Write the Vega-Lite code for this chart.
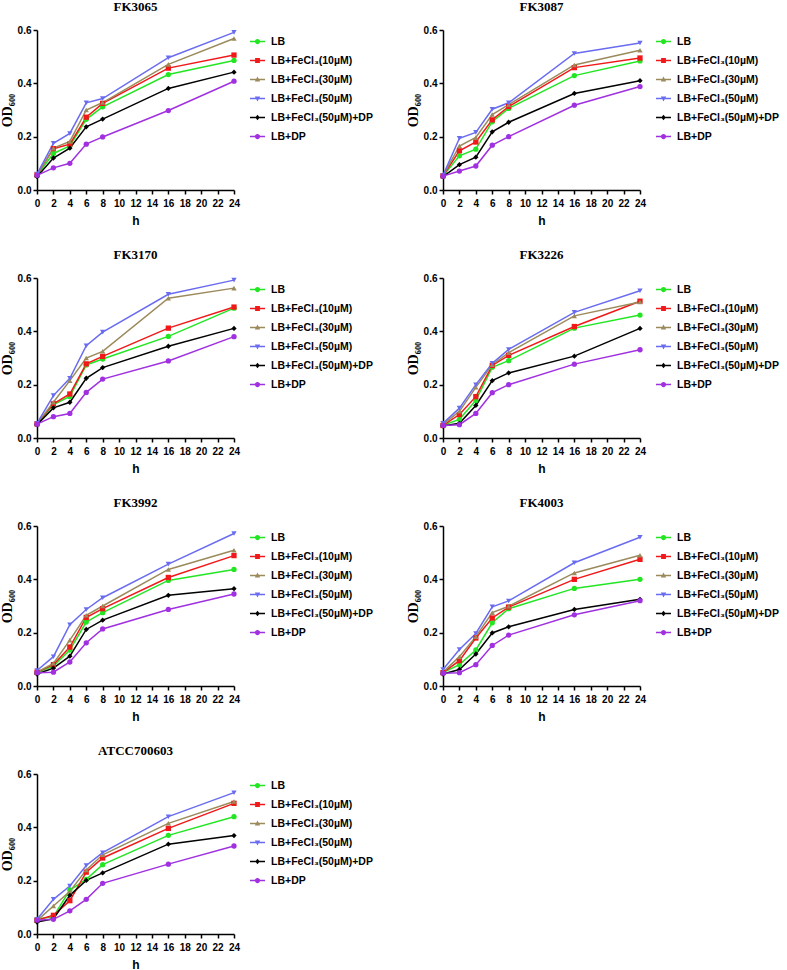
{
  "$schema": "https://vega.github.io/schema/vega-lite/v6.json",
  "background": "white",
  "padding": {"left": 0, "top": 1, "right": 0, "bottom": 0},
  "columns": 2,
  "spacing": {"row": 23, "column": 29},
  "resolve": {"legend": {"color": "independent", "shape": "independent"}},
  "datasets": {
    "od": [
      {"s":"FK3065","g":"LB","h":0,"v":0.055},{"s":"FK3065","g":"LB","h":2,"v":0.137},{"s":"FK3065","g":"LB","h":4,"v":0.165},{"s":"FK3065","g":"LB","h":6,"v":0.265},{"s":"FK3065","g":"LB","h":8,"v":0.312},{"s":"FK3065","g":"LB","h":16,"v":0.433},{"s":"FK3065","g":"LB","h":24,"v":0.486},
      {"s":"FK3065","g":"LB+FeCl₃(10µM)","h":0,"v":0.057},{"s":"FK3065","g":"LB+FeCl₃(10µM)","h":2,"v":0.155},{"s":"FK3065","g":"LB+FeCl₃(10µM)","h":4,"v":0.172},{"s":"FK3065","g":"LB+FeCl₃(10µM)","h":6,"v":0.273},{"s":"FK3065","g":"LB+FeCl₃(10µM)","h":8,"v":0.325},{"s":"FK3065","g":"LB+FeCl₃(10µM)","h":16,"v":0.457},{"s":"FK3065","g":"LB+FeCl₃(10µM)","h":24,"v":0.506},
      {"s":"FK3065","g":"LB+FeCl₃(30µM)","h":0,"v":0.055},{"s":"FK3065","g":"LB+FeCl₃(30µM)","h":2,"v":0.157},{"s":"FK3065","g":"LB+FeCl₃(30µM)","h":4,"v":0.182},{"s":"FK3065","g":"LB+FeCl₃(30µM)","h":6,"v":0.3},{"s":"FK3065","g":"LB+FeCl₃(30µM)","h":8,"v":0.328},{"s":"FK3065","g":"LB+FeCl₃(30µM)","h":16,"v":0.471},{"s":"FK3065","g":"LB+FeCl₃(30µM)","h":24,"v":0.568},
      {"s":"FK3065","g":"LB+FeCl₃(50µM)","h":0,"v":0.06},{"s":"FK3065","g":"LB+FeCl₃(50µM)","h":2,"v":0.175},{"s":"FK3065","g":"LB+FeCl₃(50µM)","h":4,"v":0.212},{"s":"FK3065","g":"LB+FeCl₃(50µM)","h":6,"v":0.327},{"s":"FK3065","g":"LB+FeCl₃(50µM)","h":8,"v":0.343},{"s":"FK3065","g":"LB+FeCl₃(50µM)","h":16,"v":0.496},{"s":"FK3065","g":"LB+FeCl₃(50µM)","h":24,"v":0.591},
      {"s":"FK3065","g":"LB+FeCl₃(50µM)+DP","h":0,"v":0.05},{"s":"FK3065","g":"LB+FeCl₃(50µM)+DP","h":2,"v":0.12},{"s":"FK3065","g":"LB+FeCl₃(50µM)+DP","h":4,"v":0.157},{"s":"FK3065","g":"LB+FeCl₃(50µM)+DP","h":6,"v":0.237},{"s":"FK3065","g":"LB+FeCl₃(50µM)+DP","h":8,"v":0.266},{"s":"FK3065","g":"LB+FeCl₃(50µM)+DP","h":16,"v":0.381},{"s":"FK3065","g":"LB+FeCl₃(50µM)+DP","h":24,"v":0.442},
      {"s":"FK3065","g":"LB+DP","h":0,"v":0.055},{"s":"FK3065","g":"LB+DP","h":2,"v":0.083},{"s":"FK3065","g":"LB+DP","h":4,"v":0.1},{"s":"FK3065","g":"LB+DP","h":6,"v":0.172},{"s":"FK3065","g":"LB+DP","h":8,"v":0.199},{"s":"FK3065","g":"LB+DP","h":16,"v":0.298},{"s":"FK3065","g":"LB+DP","h":24,"v":0.408},

      {"s":"FK3087","g":"LB","h":0,"v":0.052},{"s":"FK3087","g":"LB","h":2,"v":0.128},{"s":"FK3087","g":"LB","h":4,"v":0.153},{"s":"FK3087","g":"LB","h":6,"v":0.256},{"s":"FK3087","g":"LB","h":8,"v":0.306},{"s":"FK3087","g":"LB","h":16,"v":0.429},{"s":"FK3087","g":"LB","h":24,"v":0.484},
      {"s":"FK3087","g":"LB+FeCl₃(10µM)","h":0,"v":0.053},{"s":"FK3087","g":"LB+FeCl₃(10µM)","h":2,"v":0.147},{"s":"FK3087","g":"LB+FeCl₃(10µM)","h":4,"v":0.18},{"s":"FK3087","g":"LB+FeCl₃(10µM)","h":6,"v":0.263},{"s":"FK3087","g":"LB+FeCl₃(10µM)","h":8,"v":0.313},{"s":"FK3087","g":"LB+FeCl₃(10µM)","h":16,"v":0.459},{"s":"FK3087","g":"LB+FeCl₃(10µM)","h":24,"v":0.495},
      {"s":"FK3087","g":"LB+FeCl₃(30µM)","h":0,"v":0.054},{"s":"FK3087","g":"LB+FeCl₃(30µM)","h":2,"v":0.165},{"s":"FK3087","g":"LB+FeCl₃(30µM)","h":4,"v":0.197},{"s":"FK3087","g":"LB+FeCl₃(30µM)","h":6,"v":0.283},{"s":"FK3087","g":"LB+FeCl₃(30µM)","h":8,"v":0.32},{"s":"FK3087","g":"LB+FeCl₃(30µM)","h":16,"v":0.469},{"s":"FK3087","g":"LB+FeCl₃(30µM)","h":24,"v":0.524},
      {"s":"FK3087","g":"LB+FeCl₃(50µM)","h":0,"v":0.055},{"s":"FK3087","g":"LB+FeCl₃(50µM)","h":2,"v":0.194},{"s":"FK3087","g":"LB+FeCl₃(50µM)","h":4,"v":0.216},{"s":"FK3087","g":"LB+FeCl₃(50µM)","h":6,"v":0.303},{"s":"FK3087","g":"LB+FeCl₃(50µM)","h":8,"v":0.327},{"s":"FK3087","g":"LB+FeCl₃(50µM)","h":16,"v":0.512},{"s":"FK3087","g":"LB+FeCl₃(50µM)","h":24,"v":0.551},
      {"s":"FK3087","g":"LB+FeCl₃(50µM)+DP","h":0,"v":0.05},{"s":"FK3087","g":"LB+FeCl₃(50µM)+DP","h":2,"v":0.095},{"s":"FK3087","g":"LB+FeCl₃(50µM)+DP","h":4,"v":0.123},{"s":"FK3087","g":"LB+FeCl₃(50µM)+DP","h":6,"v":0.218},{"s":"FK3087","g":"LB+FeCl₃(50µM)+DP","h":8,"v":0.254},{"s":"FK3087","g":"LB+FeCl₃(50µM)+DP","h":16,"v":0.362},{"s":"FK3087","g":"LB+FeCl₃(50µM)+DP","h":24,"v":0.41},
      {"s":"FK3087","g":"LB+DP","h":0,"v":0.052},{"s":"FK3087","g":"LB+DP","h":2,"v":0.071},{"s":"FK3087","g":"LB+DP","h":4,"v":0.09},{"s":"FK3087","g":"LB+DP","h":6,"v":0.168},{"s":"FK3087","g":"LB+DP","h":8,"v":0.2},{"s":"FK3087","g":"LB+DP","h":16,"v":0.318},{"s":"FK3087","g":"LB+DP","h":24,"v":0.388},

      {"s":"FK3170","g":"LB","h":0,"v":0.052},{"s":"FK3170","g":"LB","h":2,"v":0.125},{"s":"FK3170","g":"LB","h":4,"v":0.156},{"s":"FK3170","g":"LB","h":6,"v":0.274},{"s":"FK3170","g":"LB","h":8,"v":0.296},{"s":"FK3170","g":"LB","h":16,"v":0.381},{"s":"FK3170","g":"LB","h":24,"v":0.487},
      {"s":"FK3170","g":"LB+FeCl₃(10µM)","h":0,"v":0.053},{"s":"FK3170","g":"LB+FeCl₃(10µM)","h":2,"v":0.128},{"s":"FK3170","g":"LB+FeCl₃(10µM)","h":4,"v":0.165},{"s":"FK3170","g":"LB+FeCl₃(10µM)","h":6,"v":0.278},{"s":"FK3170","g":"LB+FeCl₃(10µM)","h":8,"v":0.306},{"s":"FK3170","g":"LB+FeCl₃(10µM)","h":16,"v":0.412},{"s":"FK3170","g":"LB+FeCl₃(10µM)","h":24,"v":0.491},
      {"s":"FK3170","g":"LB+FeCl₃(30µM)","h":0,"v":0.054},{"s":"FK3170","g":"LB+FeCl₃(30µM)","h":2,"v":0.134},{"s":"FK3170","g":"LB+FeCl₃(30µM)","h":4,"v":0.215},{"s":"FK3170","g":"LB+FeCl₃(30µM)","h":6,"v":0.3},{"s":"FK3170","g":"LB+FeCl₃(30µM)","h":8,"v":0.325},{"s":"FK3170","g":"LB+FeCl₃(30µM)","h":16,"v":0.524},{"s":"FK3170","g":"LB+FeCl₃(30µM)","h":24,"v":0.562},
      {"s":"FK3170","g":"LB+FeCl₃(50µM)","h":0,"v":0.055},{"s":"FK3170","g":"LB+FeCl₃(50µM)","h":2,"v":0.159},{"s":"FK3170","g":"LB+FeCl₃(50µM)","h":4,"v":0.224},{"s":"FK3170","g":"LB+FeCl₃(50µM)","h":6,"v":0.346},{"s":"FK3170","g":"LB+FeCl₃(50µM)","h":8,"v":0.397},{"s":"FK3170","g":"LB+FeCl₃(50µM)","h":16,"v":0.539},{"s":"FK3170","g":"LB+FeCl₃(50µM)","h":24,"v":0.592},
      {"s":"FK3170","g":"LB+FeCl₃(50µM)+DP","h":0,"v":0.05},{"s":"FK3170","g":"LB+FeCl₃(50µM)+DP","h":2,"v":0.113},{"s":"FK3170","g":"LB+FeCl₃(50µM)+DP","h":4,"v":0.134},{"s":"FK3170","g":"LB+FeCl₃(50µM)+DP","h":6,"v":0.224},{"s":"FK3170","g":"LB+FeCl₃(50µM)+DP","h":8,"v":0.264},{"s":"FK3170","g":"LB+FeCl₃(50µM)+DP","h":16,"v":0.344},{"s":"FK3170","g":"LB+FeCl₃(50µM)+DP","h":24,"v":0.411},
      {"s":"FK3170","g":"LB+DP","h":0,"v":0.052},{"s":"FK3170","g":"LB+DP","h":2,"v":0.08},{"s":"FK3170","g":"LB+DP","h":4,"v":0.092},{"s":"FK3170","g":"LB+DP","h":6,"v":0.171},{"s":"FK3170","g":"LB+DP","h":8,"v":0.221},{"s":"FK3170","g":"LB+DP","h":16,"v":0.289},{"s":"FK3170","g":"LB+DP","h":24,"v":0.38},

      {"s":"FK3226","g":"LB","h":0,"v":0.048},{"s":"FK3226","g":"LB","h":2,"v":0.07},{"s":"FK3226","g":"LB","h":4,"v":0.141},{"s":"FK3226","g":"LB","h":6,"v":0.265},{"s":"FK3226","g":"LB","h":8,"v":0.29},{"s":"FK3226","g":"LB","h":16,"v":0.412},{"s":"FK3226","g":"LB","h":24,"v":0.461},
      {"s":"FK3226","g":"LB+FeCl₃(10µM)","h":0,"v":0.047},{"s":"FK3226","g":"LB+FeCl₃(10µM)","h":2,"v":0.088},{"s":"FK3226","g":"LB+FeCl₃(10µM)","h":4,"v":0.155},{"s":"FK3226","g":"LB+FeCl₃(10µM)","h":6,"v":0.272},{"s":"FK3226","g":"LB+FeCl₃(10µM)","h":8,"v":0.31},{"s":"FK3226","g":"LB+FeCl₃(10µM)","h":16,"v":0.418},{"s":"FK3226","g":"LB+FeCl₃(10µM)","h":24,"v":0.513},
      {"s":"FK3226","g":"LB+FeCl₃(30µM)","h":0,"v":0.05},{"s":"FK3226","g":"LB+FeCl₃(30µM)","h":2,"v":0.1},{"s":"FK3226","g":"LB+FeCl₃(30µM)","h":4,"v":0.19},{"s":"FK3226","g":"LB+FeCl₃(30µM)","h":6,"v":0.275},{"s":"FK3226","g":"LB+FeCl₃(30µM)","h":8,"v":0.32},{"s":"FK3226","g":"LB+FeCl₃(30µM)","h":16,"v":0.458},{"s":"FK3226","g":"LB+FeCl₃(30µM)","h":24,"v":0.51},
      {"s":"FK3226","g":"LB+FeCl₃(50µM)","h":0,"v":0.055},{"s":"FK3226","g":"LB+FeCl₃(50µM)","h":2,"v":0.112},{"s":"FK3226","g":"LB+FeCl₃(50µM)","h":4,"v":0.2},{"s":"FK3226","g":"LB+FeCl₃(50µM)","h":6,"v":0.28},{"s":"FK3226","g":"LB+FeCl₃(50µM)","h":8,"v":0.332},{"s":"FK3226","g":"LB+FeCl₃(50µM)","h":16,"v":0.471},{"s":"FK3226","g":"LB+FeCl₃(50µM)","h":24,"v":0.552},
      {"s":"FK3226","g":"LB+FeCl₃(50µM)+DP","h":0,"v":0.045},{"s":"FK3226","g":"LB+FeCl₃(50µM)+DP","h":2,"v":0.055},{"s":"FK3226","g":"LB+FeCl₃(50µM)+DP","h":4,"v":0.122},{"s":"FK3226","g":"LB+FeCl₃(50µM)+DP","h":6,"v":0.215},{"s":"FK3226","g":"LB+FeCl₃(50µM)+DP","h":8,"v":0.244},{"s":"FK3226","g":"LB+FeCl₃(50µM)+DP","h":16,"v":0.307},{"s":"FK3226","g":"LB+FeCl₃(50µM)+DP","h":24,"v":0.411},
      {"s":"FK3226","g":"LB+DP","h":0,"v":0.047},{"s":"FK3226","g":"LB+DP","h":2,"v":0.05},{"s":"FK3226","g":"LB+DP","h":4,"v":0.092},{"s":"FK3226","g":"LB+DP","h":6,"v":0.17},{"s":"FK3226","g":"LB+DP","h":8,"v":0.2},{"s":"FK3226","g":"LB+DP","h":16,"v":0.277},{"s":"FK3226","g":"LB+DP","h":24,"v":0.331},

      {"s":"FK3992","g":"LB","h":0,"v":0.05},{"s":"FK3992","g":"LB","h":2,"v":0.075},{"s":"FK3992","g":"LB","h":4,"v":0.135},{"s":"FK3992","g":"LB","h":6,"v":0.24},{"s":"FK3992","g":"LB","h":8,"v":0.275},{"s":"FK3992","g":"LB","h":16,"v":0.396},{"s":"FK3992","g":"LB","h":24,"v":0.437},
      {"s":"FK3992","g":"LB+FeCl₃(10µM)","h":0,"v":0.052},{"s":"FK3992","g":"LB+FeCl₃(10µM)","h":2,"v":0.08},{"s":"FK3992","g":"LB+FeCl₃(10µM)","h":4,"v":0.146},{"s":"FK3992","g":"LB+FeCl₃(10µM)","h":6,"v":0.257},{"s":"FK3992","g":"LB+FeCl₃(10µM)","h":8,"v":0.29},{"s":"FK3992","g":"LB+FeCl₃(10µM)","h":16,"v":0.407},{"s":"FK3992","g":"LB+FeCl₃(10µM)","h":24,"v":0.489},
      {"s":"FK3992","g":"LB+FeCl₃(30µM)","h":0,"v":0.052},{"s":"FK3992","g":"LB+FeCl₃(30µM)","h":2,"v":0.085},{"s":"FK3992","g":"LB+FeCl₃(30µM)","h":4,"v":0.172},{"s":"FK3992","g":"LB+FeCl₃(30µM)","h":6,"v":0.265},{"s":"FK3992","g":"LB+FeCl₃(30µM)","h":8,"v":0.3},{"s":"FK3992","g":"LB+FeCl₃(30µM)","h":16,"v":0.437},{"s":"FK3992","g":"LB+FeCl₃(30µM)","h":24,"v":0.509},
      {"s":"FK3992","g":"LB+FeCl₃(50µM)","h":0,"v":0.058},{"s":"FK3992","g":"LB+FeCl₃(50µM)","h":2,"v":0.11},{"s":"FK3992","g":"LB+FeCl₃(50µM)","h":4,"v":0.23},{"s":"FK3992","g":"LB+FeCl₃(50µM)","h":6,"v":0.287},{"s":"FK3992","g":"LB+FeCl₃(50µM)","h":8,"v":0.331},{"s":"FK3992","g":"LB+FeCl₃(50µM)","h":16,"v":0.457},{"s":"FK3992","g":"LB+FeCl₃(50µM)","h":24,"v":0.572},
      {"s":"FK3992","g":"LB+FeCl₃(50µM)+DP","h":0,"v":0.045},{"s":"FK3992","g":"LB+FeCl₃(50µM)+DP","h":2,"v":0.067},{"s":"FK3992","g":"LB+FeCl₃(50µM)+DP","h":4,"v":0.112},{"s":"FK3992","g":"LB+FeCl₃(50µM)+DP","h":6,"v":0.212},{"s":"FK3992","g":"LB+FeCl₃(50µM)+DP","h":8,"v":0.247},{"s":"FK3992","g":"LB+FeCl₃(50µM)+DP","h":16,"v":0.34},{"s":"FK3992","g":"LB+FeCl₃(50µM)+DP","h":24,"v":0.365},
      {"s":"FK3992","g":"LB+DP","h":0,"v":0.05},{"s":"FK3992","g":"LB+DP","h":2,"v":0.052},{"s":"FK3992","g":"LB+DP","h":4,"v":0.09},{"s":"FK3992","g":"LB+DP","h":6,"v":0.162},{"s":"FK3992","g":"LB+DP","h":8,"v":0.214},{"s":"FK3992","g":"LB+DP","h":16,"v":0.287},{"s":"FK3992","g":"LB+DP","h":24,"v":0.345},

      {"s":"FK4003","g":"LB","h":0,"v":0.05},{"s":"FK4003","g":"LB","h":2,"v":0.08},{"s":"FK4003","g":"LB","h":4,"v":0.135},{"s":"FK4003","g":"LB","h":6,"v":0.237},{"s":"FK4003","g":"LB","h":8,"v":0.29},{"s":"FK4003","g":"LB","h":16,"v":0.366},{"s":"FK4003","g":"LB","h":24,"v":0.4},
      {"s":"FK4003","g":"LB+FeCl₃(10µM)","h":0,"v":0.05},{"s":"FK4003","g":"LB+FeCl₃(10µM)","h":2,"v":0.095},{"s":"FK4003","g":"LB+FeCl₃(10µM)","h":4,"v":0.18},{"s":"FK4003","g":"LB+FeCl₃(10µM)","h":6,"v":0.255},{"s":"FK4003","g":"LB+FeCl₃(10µM)","h":8,"v":0.296},{"s":"FK4003","g":"LB+FeCl₃(10µM)","h":16,"v":0.4},{"s":"FK4003","g":"LB+FeCl₃(10µM)","h":24,"v":0.475},
      {"s":"FK4003","g":"LB+FeCl₃(30µM)","h":0,"v":0.052},{"s":"FK4003","g":"LB+FeCl₃(30µM)","h":2,"v":0.11},{"s":"FK4003","g":"LB+FeCl₃(30µM)","h":4,"v":0.185},{"s":"FK4003","g":"LB+FeCl₃(30µM)","h":6,"v":0.275},{"s":"FK4003","g":"LB+FeCl₃(30µM)","h":8,"v":0.299},{"s":"FK4003","g":"LB+FeCl₃(30µM)","h":16,"v":0.424},{"s":"FK4003","g":"LB+FeCl₃(30µM)","h":24,"v":0.49},
      {"s":"FK4003","g":"LB+FeCl₃(50µM)","h":0,"v":0.062},{"s":"FK4003","g":"LB+FeCl₃(50µM)","h":2,"v":0.137},{"s":"FK4003","g":"LB+FeCl₃(50µM)","h":4,"v":0.197},{"s":"FK4003","g":"LB+FeCl₃(50µM)","h":6,"v":0.297},{"s":"FK4003","g":"LB+FeCl₃(50µM)","h":8,"v":0.319},{"s":"FK4003","g":"LB+FeCl₃(50µM)","h":16,"v":0.462},{"s":"FK4003","g":"LB+FeCl₃(50µM)","h":24,"v":0.558},
      {"s":"FK4003","g":"LB+FeCl₃(50µM)+DP","h":0,"v":0.045},{"s":"FK4003","g":"LB+FeCl₃(50µM)+DP","h":2,"v":0.062},{"s":"FK4003","g":"LB+FeCl₃(50µM)+DP","h":4,"v":0.12},{"s":"FK4003","g":"LB+FeCl₃(50µM)+DP","h":6,"v":0.199},{"s":"FK4003","g":"LB+FeCl₃(50µM)+DP","h":8,"v":0.222},{"s":"FK4003","g":"LB+FeCl₃(50µM)+DP","h":16,"v":0.287},{"s":"FK4003","g":"LB+FeCl₃(50µM)+DP","h":24,"v":0.325},
      {"s":"FK4003","g":"LB+DP","h":0,"v":0.048},{"s":"FK4003","g":"LB+DP","h":2,"v":0.05},{"s":"FK4003","g":"LB+DP","h":4,"v":0.08},{"s":"FK4003","g":"LB+DP","h":6,"v":0.152},{"s":"FK4003","g":"LB+DP","h":8,"v":0.191},{"s":"FK4003","g":"LB+DP","h":16,"v":0.267},{"s":"FK4003","g":"LB+DP","h":24,"v":0.32},

      {"s":"ATCC700603","g":"LB","h":0,"v":0.055},{"s":"ATCC700603","g":"LB","h":2,"v":0.065},{"s":"ATCC700603","g":"LB","h":4,"v":0.165},{"s":"ATCC700603","g":"LB","h":6,"v":0.205},{"s":"ATCC700603","g":"LB","h":8,"v":0.26},{"s":"ATCC700603","g":"LB","h":16,"v":0.37},{"s":"ATCC700603","g":"LB","h":24,"v":0.44},
      {"s":"ATCC700603","g":"LB+FeCl₃(10µM)","h":0,"v":0.052},{"s":"ATCC700603","g":"LB+FeCl₃(10µM)","h":2,"v":0.07},{"s":"ATCC700603","g":"LB+FeCl₃(10µM)","h":4,"v":0.125},{"s":"ATCC700603","g":"LB+FeCl₃(10µM)","h":6,"v":0.232},{"s":"ATCC700603","g":"LB+FeCl₃(10µM)","h":8,"v":0.285},{"s":"ATCC700603","g":"LB+FeCl₃(10µM)","h":16,"v":0.396},{"s":"ATCC700603","g":"LB+FeCl₃(10µM)","h":24,"v":0.49},
      {"s":"ATCC700603","g":"LB+FeCl₃(30µM)","h":0,"v":0.05},{"s":"ATCC700603","g":"LB+FeCl₃(30µM)","h":2,"v":0.105},{"s":"ATCC700603","g":"LB+FeCl₃(30µM)","h":4,"v":0.16},{"s":"ATCC700603","g":"LB+FeCl₃(30µM)","h":6,"v":0.24},{"s":"ATCC700603","g":"LB+FeCl₃(30µM)","h":8,"v":0.297},{"s":"ATCC700603","g":"LB+FeCl₃(30µM)","h":16,"v":0.415},{"s":"ATCC700603","g":"LB+FeCl₃(30µM)","h":24,"v":0.497},
      {"s":"ATCC700603","g":"LB+FeCl₃(50µM)","h":0,"v":0.055},{"s":"ATCC700603","g":"LB+FeCl₃(50µM)","h":2,"v":0.13},{"s":"ATCC700603","g":"LB+FeCl₃(50µM)","h":4,"v":0.18},{"s":"ATCC700603","g":"LB+FeCl₃(50µM)","h":6,"v":0.257},{"s":"ATCC700603","g":"LB+FeCl₃(50µM)","h":8,"v":0.305},{"s":"ATCC700603","g":"LB+FeCl₃(50µM)","h":16,"v":0.44},{"s":"ATCC700603","g":"LB+FeCl₃(50µM)","h":24,"v":0.53},
      {"s":"ATCC700603","g":"LB+FeCl₃(50µM)+DP","h":0,"v":0.045},{"s":"ATCC700603","g":"LB+FeCl₃(50µM)+DP","h":2,"v":0.057},{"s":"ATCC700603","g":"LB+FeCl₃(50µM)+DP","h":4,"v":0.145},{"s":"ATCC700603","g":"LB+FeCl₃(50µM)+DP","h":6,"v":0.201},{"s":"ATCC700603","g":"LB+FeCl₃(50µM)+DP","h":8,"v":0.229},{"s":"ATCC700603","g":"LB+FeCl₃(50µM)+DP","h":16,"v":0.337},{"s":"ATCC700603","g":"LB+FeCl₃(50µM)+DP","h":24,"v":0.369},
      {"s":"ATCC700603","g":"LB+DP","h":0,"v":0.052},{"s":"ATCC700603","g":"LB+DP","h":2,"v":0.055},{"s":"ATCC700603","g":"LB+DP","h":4,"v":0.087},{"s":"ATCC700603","g":"LB+DP","h":6,"v":0.13},{"s":"ATCC700603","g":"LB+DP","h":8,"v":0.19},{"s":"ATCC700603","g":"LB+DP","h":16,"v":0.262},{"s":"ATCC700603","g":"LB+DP","h":24,"v":0.33}
    ]
  },
  "data": {"name": "od"},
  "concat": [
    {"title": "FK3065", "width": 197, "height": 160, "transform": [{"filter": "datum.s === 'FK3065'"}],
     "resolve": {"scale": {"color": "independent", "shape": "independent"}},
     "encoding": {
       "x": {"field": "h", "type": "quantitative", "title": "h", "scale": {"domain": [0, 24], "nice": false}, "axis": {"values": [0,2,4,6,8,10,12,14,16,18,20,22,24]}},
       "y": {"field": "v", "type": "quantitative", "title": "OD₆₀₀", "scale": {"domain": [0, 0.6], "nice": false}, "axis": {"values": [0,0.2,0.4,0.6], "format": ".1f"}}
     },
     "layer": [
      {"mark": {"type": "line", "strokeWidth": 1.5},
       "encoding": {"stroke": {"field": "g", "type": "nominal", "legend": null, "scale": {"domain": ["LB","LB+FeCl₃(10µM)","LB+FeCl₃(30µM)","LB+FeCl₃(50µM)","LB+FeCl₃(50µM)+DP","LB+DP"], "range": ["#22e622","#f01818","#9a8a5c","#6a6cf0","#000000","#a030e0"]}}}},
      {"mark": {"type": "point", "filled": true, "size": 28, "opacity": 1},
       "encoding": {
        "color": {"field": "g", "type": "nominal", "legend": null, "scale": {"domain": ["LB","LB+FeCl₃(10µM)","LB+FeCl₃(30µM)","LB+FeCl₃(50µM)","LB+FeCl₃(50µM)+DP","LB+DP"], "range": ["#22e622","#f01818","#9a8a5c","#6a6cf0","#000000","#a030e0"]}},
        "shape": {"field": "g", "type": "nominal", "legend": null, "scale": {"domain": ["LB","LB+FeCl₃(10µM)","LB+FeCl₃(30µM)","LB+FeCl₃(50µM)","LB+FeCl₃(50µM)+DP","LB+DP"], "range": ["circle","square","triangle-up","triangle-down","diamond","circle"]}}
       }},
      {"transform": [{"filter": "datum.h < 0"}],
       "mark": {"type": "point", "filled": true, "opacity": 1},
       "encoding": {
        "color": {"field": "g", "type": "nominal", "legend": {"title": null, "symbolOpacity": 1}, "scale": {"domain": ["LB","LB+FeCl₃(10µM)","LB+FeCl₃(30µM)","LB+FeCl₃(50µM)","LB+FeCl₃(50µM)+DP","LB+DP"], "range": ["#22e622","#f01818","#9a8a5c","#6a6cf0","#000000","#a030e0"]}},
        "shape": {"field": "g", "type": "nominal", "legend": {"title": null}, "scale": {"domain": ["LB","LB+FeCl₃(10µM)","LB+FeCl₃(30µM)","LB+FeCl₃(50µM)","LB+FeCl₃(50µM)+DP","LB+DP"], "range": ["M-1,-0.1H1V0.1H-1Z M0.35,0A0.35,0.35 0 1,1 -0.35,0A0.35,0.35 0 1,1 0.35,0Z","M-1,-0.1H1V0.1H-1Z M-0.32,-0.32H0.32V0.32H-0.32Z","M-1,-0.1H1V0.1H-1Z M0,-0.4L0.36,0.26H-0.36Z","M-1,-0.1H1V0.1H-1Z M-0.36,-0.26H0.36L0,0.4Z","M-1,-0.1H1V0.1H-1Z M0,-0.38L0.3,0L0,0.38L-0.3,0Z","M-1,-0.1H1V0.1H-1Z M0.35,0A0.35,0.35 0 1,1 -0.35,0A0.35,0.35 0 1,1 0.35,0Z"]}}
       }}
     ]},
    {"title": "FK3087", "width": 197, "height": 160, "transform": [{"filter": "datum.s === 'FK3087'"}],
     "resolve": {"scale": {"color": "independent", "shape": "independent"}},
     "encoding": {
       "x": {"field": "h", "type": "quantitative", "title": "h", "scale": {"domain": [0, 24], "nice": false}, "axis": {"values": [0,2,4,6,8,10,12,14,16,18,20,22,24]}},
       "y": {"field": "v", "type": "quantitative", "title": "OD₆₀₀", "scale": {"domain": [0, 0.6], "nice": false}, "axis": {"values": [0,0.2,0.4,0.6], "format": ".1f"}}
     },
     "layer": [
      {"mark": {"type": "line", "strokeWidth": 1.5},
       "encoding": {"stroke": {"field": "g", "type": "nominal", "legend": null, "scale": {"domain": ["LB","LB+FeCl₃(10µM)","LB+FeCl₃(30µM)","LB+FeCl₃(50µM)","LB+FeCl₃(50µM)+DP","LB+DP"], "range": ["#22e622","#f01818","#9a8a5c","#6a6cf0","#000000","#a030e0"]}}}},
      {"mark": {"type": "point", "filled": true, "size": 28, "opacity": 1},
       "encoding": {
        "color": {"field": "g", "type": "nominal", "legend": null, "scale": {"domain": ["LB","LB+FeCl₃(10µM)","LB+FeCl₃(30µM)","LB+FeCl₃(50µM)","LB+FeCl₃(50µM)+DP","LB+DP"], "range": ["#22e622","#f01818","#9a8a5c","#6a6cf0","#000000","#a030e0"]}},
        "shape": {"field": "g", "type": "nominal", "legend": null, "scale": {"domain": ["LB","LB+FeCl₃(10µM)","LB+FeCl₃(30µM)","LB+FeCl₃(50µM)","LB+FeCl₃(50µM)+DP","LB+DP"], "range": ["circle","square","triangle-up","triangle-down","diamond","circle"]}}
       }},
      {"transform": [{"filter": "datum.h < 0"}],
       "mark": {"type": "point", "filled": true, "opacity": 1},
       "encoding": {
        "color": {"field": "g", "type": "nominal", "legend": {"title": null, "symbolOpacity": 1}, "scale": {"domain": ["LB","LB+FeCl₃(10µM)","LB+FeCl₃(30µM)","LB+FeCl₃(50µM)","LB+FeCl₃(50µM)+DP","LB+DP"], "range": ["#22e622","#f01818","#9a8a5c","#6a6cf0","#000000","#a030e0"]}},
        "shape": {"field": "g", "type": "nominal", "legend": {"title": null}, "scale": {"domain": ["LB","LB+FeCl₃(10µM)","LB+FeCl₃(30µM)","LB+FeCl₃(50µM)","LB+FeCl₃(50µM)+DP","LB+DP"], "range": ["M-1,-0.1H1V0.1H-1Z M0.35,0A0.35,0.35 0 1,1 -0.35,0A0.35,0.35 0 1,1 0.35,0Z","M-1,-0.1H1V0.1H-1Z M-0.32,-0.32H0.32V0.32H-0.32Z","M-1,-0.1H1V0.1H-1Z M0,-0.4L0.36,0.26H-0.36Z","M-1,-0.1H1V0.1H-1Z M-0.36,-0.26H0.36L0,0.4Z","M-1,-0.1H1V0.1H-1Z M0,-0.38L0.3,0L0,0.38L-0.3,0Z","M-1,-0.1H1V0.1H-1Z M0.35,0A0.35,0.35 0 1,1 -0.35,0A0.35,0.35 0 1,1 0.35,0Z"]}}
       }}
     ]},
    {"title": "FK3170", "width": 197, "height": 160, "transform": [{"filter": "datum.s === 'FK3170'"}],
     "resolve": {"scale": {"color": "independent", "shape": "independent"}},
     "encoding": {
       "x": {"field": "h", "type": "quantitative", "title": "h", "scale": {"domain": [0, 24], "nice": false}, "axis": {"values": [0,2,4,6,8,10,12,14,16,18,20,22,24]}},
       "y": {"field": "v", "type": "quantitative", "title": "OD₆₀₀", "scale": {"domain": [0, 0.6], "nice": false}, "axis": {"values": [0,0.2,0.4,0.6], "format": ".1f"}}
     },
     "layer": [
      {"mark": {"type": "line", "strokeWidth": 1.5},
       "encoding": {"stroke": {"field": "g", "type": "nominal", "legend": null, "scale": {"domain": ["LB","LB+FeCl₃(10µM)","LB+FeCl₃(30µM)","LB+FeCl₃(50µM)","LB+FeCl₃(50µM)+DP","LB+DP"], "range": ["#22e622","#f01818","#9a8a5c","#6a6cf0","#000000","#a030e0"]}}}},
      {"mark": {"type": "point", "filled": true, "size": 28, "opacity": 1},
       "encoding": {
        "color": {"field": "g", "type": "nominal", "legend": null, "scale": {"domain": ["LB","LB+FeCl₃(10µM)","LB+FeCl₃(30µM)","LB+FeCl₃(50µM)","LB+FeCl₃(50µM)+DP","LB+DP"], "range": ["#22e622","#f01818","#9a8a5c","#6a6cf0","#000000","#a030e0"]}},
        "shape": {"field": "g", "type": "nominal", "legend": null, "scale": {"domain": ["LB","LB+FeCl₃(10µM)","LB+FeCl₃(30µM)","LB+FeCl₃(50µM)","LB+FeCl₃(50µM)+DP","LB+DP"], "range": ["circle","square","triangle-up","triangle-down","diamond","circle"]}}
       }},
      {"transform": [{"filter": "datum.h < 0"}],
       "mark": {"type": "point", "filled": true, "opacity": 1},
       "encoding": {
        "color": {"field": "g", "type": "nominal", "legend": {"title": null, "symbolOpacity": 1}, "scale": {"domain": ["LB","LB+FeCl₃(10µM)","LB+FeCl₃(30µM)","LB+FeCl₃(50µM)","LB+FeCl₃(50µM)+DP","LB+DP"], "range": ["#22e622","#f01818","#9a8a5c","#6a6cf0","#000000","#a030e0"]}},
        "shape": {"field": "g", "type": "nominal", "legend": {"title": null}, "scale": {"domain": ["LB","LB+FeCl₃(10µM)","LB+FeCl₃(30µM)","LB+FeCl₃(50µM)","LB+FeCl₃(50µM)+DP","LB+DP"], "range": ["M-1,-0.1H1V0.1H-1Z M0.35,0A0.35,0.35 0 1,1 -0.35,0A0.35,0.35 0 1,1 0.35,0Z","M-1,-0.1H1V0.1H-1Z M-0.32,-0.32H0.32V0.32H-0.32Z","M-1,-0.1H1V0.1H-1Z M0,-0.4L0.36,0.26H-0.36Z","M-1,-0.1H1V0.1H-1Z M-0.36,-0.26H0.36L0,0.4Z","M-1,-0.1H1V0.1H-1Z M0,-0.38L0.3,0L0,0.38L-0.3,0Z","M-1,-0.1H1V0.1H-1Z M0.35,0A0.35,0.35 0 1,1 -0.35,0A0.35,0.35 0 1,1 0.35,0Z"]}}
       }}
     ]},
    {"title": "FK3226", "width": 197, "height": 160, "transform": [{"filter": "datum.s === 'FK3226'"}],
     "resolve": {"scale": {"color": "independent", "shape": "independent"}},
     "encoding": {
       "x": {"field": "h", "type": "quantitative", "title": "h", "scale": {"domain": [0, 24], "nice": false}, "axis": {"values": [0,2,4,6,8,10,12,14,16,18,20,22,24]}},
       "y": {"field": "v", "type": "quantitative", "title": "OD₆₀₀", "scale": {"domain": [0, 0.6], "nice": false}, "axis": {"values": [0,0.2,0.4,0.6], "format": ".1f"}}
     },
     "layer": [
      {"mark": {"type": "line", "strokeWidth": 1.5},
       "encoding": {"stroke": {"field": "g", "type": "nominal", "legend": null, "scale": {"domain": ["LB","LB+FeCl₃(10µM)","LB+FeCl₃(30µM)","LB+FeCl₃(50µM)","LB+FeCl₃(50µM)+DP","LB+DP"], "range": ["#22e622","#f01818","#9a8a5c","#6a6cf0","#000000","#a030e0"]}}}},
      {"mark": {"type": "point", "filled": true, "size": 28, "opacity": 1},
       "encoding": {
        "color": {"field": "g", "type": "nominal", "legend": null, "scale": {"domain": ["LB","LB+FeCl₃(10µM)","LB+FeCl₃(30µM)","LB+FeCl₃(50µM)","LB+FeCl₃(50µM)+DP","LB+DP"], "range": ["#22e622","#f01818","#9a8a5c","#6a6cf0","#000000","#a030e0"]}},
        "shape": {"field": "g", "type": "nominal", "legend": null, "scale": {"domain": ["LB","LB+FeCl₃(10µM)","LB+FeCl₃(30µM)","LB+FeCl₃(50µM)","LB+FeCl₃(50µM)+DP","LB+DP"], "range": ["circle","square","triangle-up","triangle-down","diamond","circle"]}}
       }},
      {"transform": [{"filter": "datum.h < 0"}],
       "mark": {"type": "point", "filled": true, "opacity": 1},
       "encoding": {
        "color": {"field": "g", "type": "nominal", "legend": {"title": null, "symbolOpacity": 1}, "scale": {"domain": ["LB","LB+FeCl₃(10µM)","LB+FeCl₃(30µM)","LB+FeCl₃(50µM)","LB+FeCl₃(50µM)+DP","LB+DP"], "range": ["#22e622","#f01818","#9a8a5c","#6a6cf0","#000000","#a030e0"]}},
        "shape": {"field": "g", "type": "nominal", "legend": {"title": null}, "scale": {"domain": ["LB","LB+FeCl₃(10µM)","LB+FeCl₃(30µM)","LB+FeCl₃(50µM)","LB+FeCl₃(50µM)+DP","LB+DP"], "range": ["M-1,-0.1H1V0.1H-1Z M0.35,0A0.35,0.35 0 1,1 -0.35,0A0.35,0.35 0 1,1 0.35,0Z","M-1,-0.1H1V0.1H-1Z M-0.32,-0.32H0.32V0.32H-0.32Z","M-1,-0.1H1V0.1H-1Z M0,-0.4L0.36,0.26H-0.36Z","M-1,-0.1H1V0.1H-1Z M-0.36,-0.26H0.36L0,0.4Z","M-1,-0.1H1V0.1H-1Z M0,-0.38L0.3,0L0,0.38L-0.3,0Z","M-1,-0.1H1V0.1H-1Z M0.35,0A0.35,0.35 0 1,1 -0.35,0A0.35,0.35 0 1,1 0.35,0Z"]}}
       }}
     ]},
    {"title": "FK3992", "width": 197, "height": 160, "transform": [{"filter": "datum.s === 'FK3992'"}],
     "resolve": {"scale": {"color": "independent", "shape": "independent"}},
     "encoding": {
       "x": {"field": "h", "type": "quantitative", "title": "h", "scale": {"domain": [0, 24], "nice": false}, "axis": {"values": [0,2,4,6,8,10,12,14,16,18,20,22,24]}},
       "y": {"field": "v", "type": "quantitative", "title": "OD₆₀₀", "scale": {"domain": [0, 0.6], "nice": false}, "axis": {"values": [0,0.2,0.4,0.6], "format": ".1f"}}
     },
     "layer": [
      {"mark": {"type": "line", "strokeWidth": 1.5},
       "encoding": {"stroke": {"field": "g", "type": "nominal", "legend": null, "scale": {"domain": ["LB","LB+FeCl₃(10µM)","LB+FeCl₃(30µM)","LB+FeCl₃(50µM)","LB+FeCl₃(50µM)+DP","LB+DP"], "range": ["#22e622","#f01818","#9a8a5c","#6a6cf0","#000000","#a030e0"]}}}},
      {"mark": {"type": "point", "filled": true, "size": 28, "opacity": 1},
       "encoding": {
        "color": {"field": "g", "type": "nominal", "legend": null, "scale": {"domain": ["LB","LB+FeCl₃(10µM)","LB+FeCl₃(30µM)","LB+FeCl₃(50µM)","LB+FeCl₃(50µM)+DP","LB+DP"], "range": ["#22e622","#f01818","#9a8a5c","#6a6cf0","#000000","#a030e0"]}},
        "shape": {"field": "g", "type": "nominal", "legend": null, "scale": {"domain": ["LB","LB+FeCl₃(10µM)","LB+FeCl₃(30µM)","LB+FeCl₃(50µM)","LB+FeCl₃(50µM)+DP","LB+DP"], "range": ["circle","square","triangle-up","triangle-down","diamond","circle"]}}
       }},
      {"transform": [{"filter": "datum.h < 0"}],
       "mark": {"type": "point", "filled": true, "opacity": 1},
       "encoding": {
        "color": {"field": "g", "type": "nominal", "legend": {"title": null, "symbolOpacity": 1}, "scale": {"domain": ["LB","LB+FeCl₃(10µM)","LB+FeCl₃(30µM)","LB+FeCl₃(50µM)","LB+FeCl₃(50µM)+DP","LB+DP"], "range": ["#22e622","#f01818","#9a8a5c","#6a6cf0","#000000","#a030e0"]}},
        "shape": {"field": "g", "type": "nominal", "legend": {"title": null}, "scale": {"domain": ["LB","LB+FeCl₃(10µM)","LB+FeCl₃(30µM)","LB+FeCl₃(50µM)","LB+FeCl₃(50µM)+DP","LB+DP"], "range": ["M-1,-0.1H1V0.1H-1Z M0.35,0A0.35,0.35 0 1,1 -0.35,0A0.35,0.35 0 1,1 0.35,0Z","M-1,-0.1H1V0.1H-1Z M-0.32,-0.32H0.32V0.32H-0.32Z","M-1,-0.1H1V0.1H-1Z M0,-0.4L0.36,0.26H-0.36Z","M-1,-0.1H1V0.1H-1Z M-0.36,-0.26H0.36L0,0.4Z","M-1,-0.1H1V0.1H-1Z M0,-0.38L0.3,0L0,0.38L-0.3,0Z","M-1,-0.1H1V0.1H-1Z M0.35,0A0.35,0.35 0 1,1 -0.35,0A0.35,0.35 0 1,1 0.35,0Z"]}}
       }}
     ]},
    {"title": "FK4003", "width": 197, "height": 160, "transform": [{"filter": "datum.s === 'FK4003'"}],
     "resolve": {"scale": {"color": "independent", "shape": "independent"}},
     "encoding": {
       "x": {"field": "h", "type": "quantitative", "title": "h", "scale": {"domain": [0, 24], "nice": false}, "axis": {"values": [0,2,4,6,8,10,12,14,16,18,20,22,24]}},
       "y": {"field": "v", "type": "quantitative", "title": "OD₆₀₀", "scale": {"domain": [0, 0.6], "nice": false}, "axis": {"values": [0,0.2,0.4,0.6], "format": ".1f"}}
     },
     "layer": [
      {"mark": {"type": "line", "strokeWidth": 1.5},
       "encoding": {"stroke": {"field": "g", "type": "nominal", "legend": null, "scale": {"domain": ["LB","LB+FeCl₃(10µM)","LB+FeCl₃(30µM)","LB+FeCl₃(50µM)","LB+FeCl₃(50µM)+DP","LB+DP"], "range": ["#22e622","#f01818","#9a8a5c","#6a6cf0","#000000","#a030e0"]}}}},
      {"mark": {"type": "point", "filled": true, "size": 28, "opacity": 1},
       "encoding": {
        "color": {"field": "g", "type": "nominal", "legend": null, "scale": {"domain": ["LB","LB+FeCl₃(10µM)","LB+FeCl₃(30µM)","LB+FeCl₃(50µM)","LB+FeCl₃(50µM)+DP","LB+DP"], "range": ["#22e622","#f01818","#9a8a5c","#6a6cf0","#000000","#a030e0"]}},
        "shape": {"field": "g", "type": "nominal", "legend": null, "scale": {"domain": ["LB","LB+FeCl₃(10µM)","LB+FeCl₃(30µM)","LB+FeCl₃(50µM)","LB+FeCl₃(50µM)+DP","LB+DP"], "range": ["circle","square","triangle-up","triangle-down","diamond","circle"]}}
       }},
      {"transform": [{"filter": "datum.h < 0"}],
       "mark": {"type": "point", "filled": true, "opacity": 1},
       "encoding": {
        "color": {"field": "g", "type": "nominal", "legend": {"title": null, "symbolOpacity": 1}, "scale": {"domain": ["LB","LB+FeCl₃(10µM)","LB+FeCl₃(30µM)","LB+FeCl₃(50µM)","LB+FeCl₃(50µM)+DP","LB+DP"], "range": ["#22e622","#f01818","#9a8a5c","#6a6cf0","#000000","#a030e0"]}},
        "shape": {"field": "g", "type": "nominal", "legend": {"title": null}, "scale": {"domain": ["LB","LB+FeCl₃(10µM)","LB+FeCl₃(30µM)","LB+FeCl₃(50µM)","LB+FeCl₃(50µM)+DP","LB+DP"], "range": ["M-1,-0.1H1V0.1H-1Z M0.35,0A0.35,0.35 0 1,1 -0.35,0A0.35,0.35 0 1,1 0.35,0Z","M-1,-0.1H1V0.1H-1Z M-0.32,-0.32H0.32V0.32H-0.32Z","M-1,-0.1H1V0.1H-1Z M0,-0.4L0.36,0.26H-0.36Z","M-1,-0.1H1V0.1H-1Z M-0.36,-0.26H0.36L0,0.4Z","M-1,-0.1H1V0.1H-1Z M0,-0.38L0.3,0L0,0.38L-0.3,0Z","M-1,-0.1H1V0.1H-1Z M0.35,0A0.35,0.35 0 1,1 -0.35,0A0.35,0.35 0 1,1 0.35,0Z"]}}
       }}
     ]},
    {"title": "ATCC700603", "width": 197, "height": 160, "transform": [{"filter": "datum.s === 'ATCC700603'"}],
     "resolve": {"scale": {"color": "independent", "shape": "independent"}},
     "encoding": {
       "x": {"field": "h", "type": "quantitative", "title": "h", "scale": {"domain": [0, 24], "nice": false}, "axis": {"values": [0,2,4,6,8,10,12,14,16,18,20,22,24]}},
       "y": {"field": "v", "type": "quantitative", "title": "OD₆₀₀", "scale": {"domain": [0, 0.6], "nice": false}, "axis": {"values": [0,0.2,0.4,0.6], "format": ".1f"}}
     },
     "layer": [
      {"mark": {"type": "line", "strokeWidth": 1.5},
       "encoding": {"stroke": {"field": "g", "type": "nominal", "legend": null, "scale": {"domain": ["LB","LB+FeCl₃(10µM)","LB+FeCl₃(30µM)","LB+FeCl₃(50µM)","LB+FeCl₃(50µM)+DP","LB+DP"], "range": ["#22e622","#f01818","#9a8a5c","#6a6cf0","#000000","#a030e0"]}}}},
      {"mark": {"type": "point", "filled": true, "size": 28, "opacity": 1},
       "encoding": {
        "color": {"field": "g", "type": "nominal", "legend": null, "scale": {"domain": ["LB","LB+FeCl₃(10µM)","LB+FeCl₃(30µM)","LB+FeCl₃(50µM)","LB+FeCl₃(50µM)+DP","LB+DP"], "range": ["#22e622","#f01818","#9a8a5c","#6a6cf0","#000000","#a030e0"]}},
        "shape": {"field": "g", "type": "nominal", "legend": null, "scale": {"domain": ["LB","LB+FeCl₃(10µM)","LB+FeCl₃(30µM)","LB+FeCl₃(50µM)","LB+FeCl₃(50µM)+DP","LB+DP"], "range": ["circle","square","triangle-up","triangle-down","diamond","circle"]}}
       }},
      {"transform": [{"filter": "datum.h < 0"}],
       "mark": {"type": "point", "filled": true, "opacity": 1},
       "encoding": {
        "color": {"field": "g", "type": "nominal", "legend": {"title": null, "symbolOpacity": 1}, "scale": {"domain": ["LB","LB+FeCl₃(10µM)","LB+FeCl₃(30µM)","LB+FeCl₃(50µM)","LB+FeCl₃(50µM)+DP","LB+DP"], "range": ["#22e622","#f01818","#9a8a5c","#6a6cf0","#000000","#a030e0"]}},
        "shape": {"field": "g", "type": "nominal", "legend": {"title": null}, "scale": {"domain": ["LB","LB+FeCl₃(10µM)","LB+FeCl₃(30µM)","LB+FeCl₃(50µM)","LB+FeCl₃(50µM)+DP","LB+DP"], "range": ["M-1,-0.1H1V0.1H-1Z M0.35,0A0.35,0.35 0 1,1 -0.35,0A0.35,0.35 0 1,1 0.35,0Z","M-1,-0.1H1V0.1H-1Z M-0.32,-0.32H0.32V0.32H-0.32Z","M-1,-0.1H1V0.1H-1Z M0,-0.4L0.36,0.26H-0.36Z","M-1,-0.1H1V0.1H-1Z M-0.36,-0.26H0.36L0,0.4Z","M-1,-0.1H1V0.1H-1Z M0,-0.38L0.3,0L0,0.38L-0.3,0Z","M-1,-0.1H1V0.1H-1Z M0.35,0A0.35,0.35 0 1,1 -0.35,0A0.35,0.35 0 1,1 0.35,0Z"]}}
       }}
     ]}
  ],
  "config": {
    "view": {"stroke": null},
    "font": "Liberation Sans",
    "axis": {"grid": false, "domainColor": "#000000", "domainWidth": 1.5, "tickColor": "#000000", "tickWidth": 1.5, "tickSize": 4, "labelFont": "Liberation Sans", "labelFontWeight": "bold", "labelFontSize": 10, "labelColor": "#000000", "titleColor": "#000000"},
    "axisX": {"labelAngle": 0, "labelFlush": false, "labelOverlap": false, "labelPadding": 4, "titleFont": "Liberation Sans", "titleFontWeight": "bold", "titleFontSize": 12, "titlePadding": 7},
    "axisY": {"titleFont": "Liberation Serif", "titleFontWeight": "bold", "titleFontSize": 14, "titlePadding": 3, "labelFlush": false, "labelPadding": 2},
    "title": {"font": "Liberation Serif", "fontWeight": "bold", "fontSize": 13, "color": "#000000", "offset": 11, "anchor": "middle"},
    "legend": {"labelFont": "Liberation Sans", "labelFontWeight": "bold", "labelFontSize": 10.5, "labelColor": "#000000", "offset": 9, "padding": 4, "rowPadding": 6, "labelOffset": 6, "symbolSize": 225, "symbolStrokeWidth": 0, "labelLimit": 200}
  }
}
